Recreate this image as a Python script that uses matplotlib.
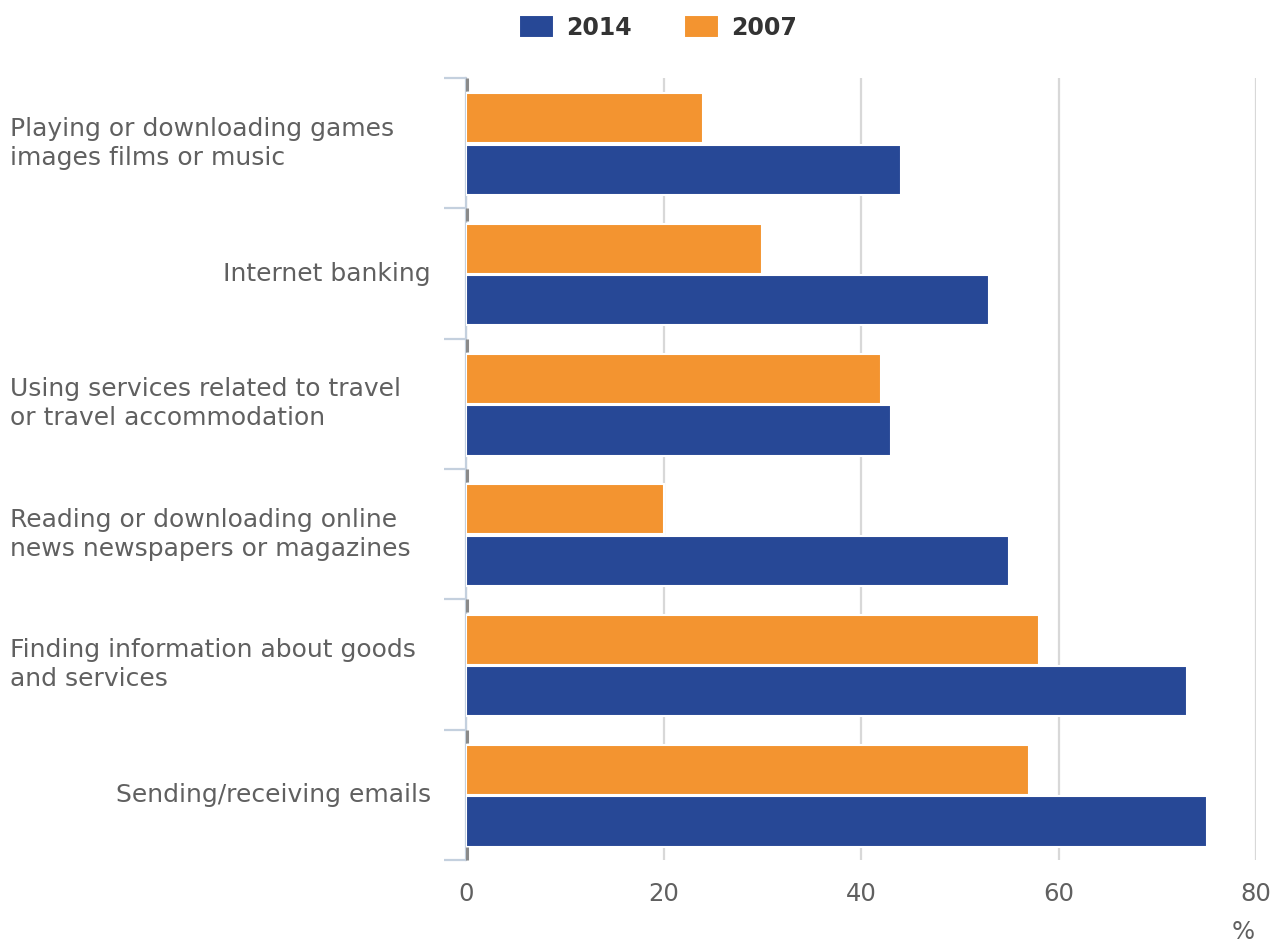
import matplotlib

matplotlib.use("Agg")
import matplotlib.pyplot as plt
from matplotlib.transforms import blended_transform_factory

plt.rcParams["font.family"] = ["DejaVu Sans"]

# categories top -> bottom
categories = [
    "Playing or downloading games\nimages films or music",
    "Internet banking",
    "Using services related to travel\nor travel accommodation",
    "Reading or downloading online\nnews newspapers or magazines",
    "Finding information about goods\nand services",
    "Sending/receiving emails",
]
vals_2014 = [44, 53, 43, 55, 73, 75]
vals_2007 = [24, 30, 42, 20, 58, 57]
x_ticks = [0, 20, 40, 60, 80]

BLUE = "#274896"
ORANGE = "#f39430"
TXT = "#606060"

W, H = 1274, 942
fig = plt.figure(figsize=(W / 100, H / 100), dpi=100)
ax = fig.add_axes([466 / W, 1 - 860 / H, 790 / W, 782 / H])

ys = list(range(len(categories)))
ax.barh([y + 0.205 for y in ys], vals_2014, height=0.385, color=BLUE,
        edgecolor="white", linewidth=1.5, label="2014", zorder=3)
ax.barh([y - 0.19 for y in ys], vals_2007, height=0.385, color=ORANGE,
        edgecolor="white", linewidth=1.5, label="2007", zorder=3)

ax.set_xlim(0, 80)
ax.set_ylim(len(categories) - 0.5, -0.5)
ax.set_xticks(x_ticks)
ax.set_xticklabels([str(t) for t in x_ticks])
ax.tick_params(axis="x", length=0, pad=16, labelsize=17.5, labelcolor=TXT)
ax.grid(axis="x", color="#d8d8d8", linewidth=1.6, zorder=0)
ax.set_axisbelow(True)

ax.set_yticks([y - 0.5 for y in ys] + [len(categories) - 0.5])
ax.set_yticklabels([])
ax.tick_params(axis="y", length=16, width=1.6, color="#c4d0de")

for s in ["top", "right", "bottom"]:
    ax.spines[s].set_visible(False)
ax.spines["left"].set_color("#c4d0de")
ax.spines["left"].set_linewidth(1.6)

# small dark marks at the top of each group
for y in ys + [len(categories)]:
    top = y - 0.5
    ax.plot([0.12, 0.12], [top, top + (0.1 if y < len(categories) else -0.1)],
            color="#8a8a8a", lw=2.2, zorder=4, solid_capstyle="butt", clip_on=False)

tr = blended_transform_factory(fig.transFigure, ax.transData)
for y, lab in zip(ys, categories):
    if "\n" in lab:
        fig.text(10 / W, y, lab, transform=tr, ha="left", va="center",
                 fontsize=18, color=TXT, linespacing=1.25)
    else:
        fig.text(431 / W, y, lab, transform=tr, ha="right", va="center",
                 fontsize=18, color=TXT)

fig.text(1243 / W, 1 - 932 / H, "%", ha="center", va="center",
         fontsize=17.5, color=TXT)

fig.legend(loc="upper center", bbox_to_anchor=(658 / W, 1 + 6 / H), ncol=2,
           frameon=False, prop={"weight": "bold", "size": 17},
           labelcolor="#333333", handlelength=1.5, handleheight=1.1,
           handletextpad=0.5, columnspacing=2.2)

fig.savefig("out.png", dpi=100)
